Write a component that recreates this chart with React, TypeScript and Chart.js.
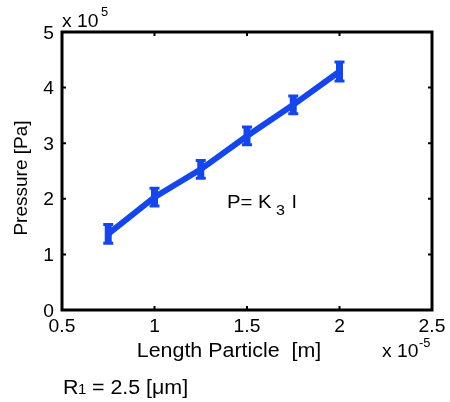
import React, { useEffect, useRef } from "react";
import { Chart, registerables } from "chart.js";

Chart.register(...registerables);

// Length particle (x 1e-5 m)
const lengthParticle = [0.75, 1.0, 1.25, 1.5, 1.75, 2.0];
// Pressure (x 1e5 Pa)
const pressure = [1.37, 2.03, 2.53, 3.13, 3.69, 4.29];
// Error (x 1e5 Pa)
const pressureErr = [0.17, 0.16, 0.16, 0.16, 0.16, 0.17];
const xTicks = [0.5, 1, 1.5, 2, 2.5];
const yTicks = [0, 1, 2, 3, 4, 5];
const xTickLabels = ["0.5", "1", "1.5", "2", "2.5"];
const yTickLabels = ["0", "1", "2", "3", "4", "5"];

const BLUE = "#1446f0";
const FONT = "Liberation Sans, Arial, sans-serif";
const SX = 1.07;

function txt(
  ctx: CanvasRenderingContext2D,
  s: string,
  x: number,
  y: number,
  size: number,
  align: CanvasTextAlign = "left",
  baseline: CanvasTextBaseline = "alphabetic",
  sx: number = SX
) {
  ctx.save();
  ctx.translate(x, y);
  ctx.scale(sx, 1);
  ctx.font = `${size}px ${FONT}`;
  ctx.textAlign = align;
  ctx.textBaseline = baseline;
  ctx.fillText(s, 0, 0);
  ctx.restore();
}

const decorPlugin = {
  id: "decor",
  afterDatasetsDraw(chart: any) {
    const ctx = chart.ctx;
    const xs = chart.scales.x;
    const ys = chart.scales.y;
    ctx.save();
    ctx.strokeStyle = BLUE;
    lengthParticle.forEach((lx, i) => {
      const px = xs.getPixelForValue(lx);
      const y1 = ys.getPixelForValue(pressure[i] - pressureErr[i]);
      const y2 = ys.getPixelForValue(pressure[i] + pressureErr[i]);
      ctx.lineWidth = 7;
      ctx.beginPath();
      ctx.moveTo(px, y1);
      ctx.lineTo(px, y2);
      ctx.stroke();
      ctx.lineWidth = 3;
      ctx.beginPath();
      ctx.moveTo(px - 5, y1);
      ctx.lineTo(px + 5, y1);
      ctx.moveTo(px - 5, y2);
      ctx.lineTo(px + 5, y2);
      ctx.stroke();
    });
    ctx.restore();
  },
  afterDraw(chart: any) {
    const ctx = chart.ctx;
    const a = chart.chartArea;
    const xs = chart.scales.x;
    const ys = chart.scales.y;
    ctx.save();
    ctx.strokeStyle = "#000";
    ctx.lineWidth = 3;
    ctx.strokeRect(a.left, a.top, a.right - a.left, a.bottom - a.top);
    ctx.lineWidth = 2;
    ctx.beginPath();
    xTicks.forEach((t) => {
      const px = xs.getPixelForValue(t);
      ctx.moveTo(px, a.bottom);
      ctx.lineTo(px, a.bottom - 4);
      ctx.moveTo(px, a.top);
      ctx.lineTo(px, a.top + 4);
    });
    yTicks.forEach((t) => {
      const py = ys.getPixelForValue(t);
      ctx.moveTo(a.left, py);
      ctx.lineTo(a.left + 4, py);
      ctx.moveTo(a.right, py);
      ctx.lineTo(a.right - 4, py);
    });
    ctx.stroke();

    ctx.fillStyle = "#000";
    // tick labels
    xTicks.forEach((t, i) => {
      txt(ctx, xTickLabels[i], xs.getPixelForValue(t), a.bottom + 22, 18, "center");
    });
    yTicks.forEach((t, i) => {
      txt(ctx, yTickLabels[i], a.left - 8, ys.getPixelForValue(t) + 6.5, 18, "right");
    });
    // top multiplier
    txt(ctx, "x 10", a.left, 27, 18);
    txt(ctx, "5", a.left + 39, 16, 12);
    // bottom multiplier
    txt(ctx, "x 10", 382, 357, 18);
    txt(ctx, "-5", 419, 347, 12);
    // x label
    txt(ctx, "Length Particle  [m]", 229, 357, 20, "center");
    // y label
    ctx.save();
    ctx.translate(27, 178);
    ctx.rotate(-Math.PI / 2);
    ctx.font = `19px ${FONT}`;
    ctx.textAlign = "center";
    ctx.textBaseline = "alphabetic";
    ctx.fillText("Pressure [Pa]", 0, 0);
    ctx.restore();
    // annotation
    txt(ctx, "P= K", 227, 208, 19);
    txt(ctx, "3", 276, 215, 15);
    txt(ctx, "l", 292, 208, 19);
    // R1 note
    txt(ctx, "R", 63, 394, 20);
    txt(ctx, "1", 78, 394, 14);
    txt(ctx, " = 2.5 [\u03bcm]", 86, 394, 20);
    ctx.restore();
  },
};

export default function App() {
  const ref = useRef<HTMLCanvasElement | null>(null);
  useEffect(() => {
    document.body.style.margin = "0";
    const canvas = ref.current;
    if (!canvas) return;
    const chart = new Chart(canvas, {
      type: "line",
      data: {
        datasets: [
          {
            data: lengthParticle.map((x, i) => ({ x, y: pressure[i] })),
            borderColor: BLUE,
            backgroundColor: BLUE,
            borderWidth: 6,
            pointRadius: 0,
            tension: 0,
          },
        ],
      },
      options: {
        responsive: false,
        animation: false,
        layout: { padding: { left: 0, right: 18, top: 32, bottom: 0 } },
        plugins: { legend: { display: false }, tooltip: { enabled: false } },
        scales: {
          x: {
            type: "linear",
            min: 0.5,
            max: 2.5,
            afterBuildTicks: (s: any) => {
              s.ticks = xTicks.map((v) => ({ value: v }));
            },
            afterFit: (s: any) => {
              s.height = 92;
            },
            grid: { display: false, drawTicks: false },
            border: { display: false },
            ticks: { display: false },
          },
          y: {
            type: "linear",
            min: 0,
            max: 5,
            afterBuildTicks: (s: any) => {
              s.ticks = yTicks.map((v) => ({ value: v }));
            },
            afterFit: (s: any) => {
              s.width = 62;
            },
            grid: { display: false, drawTicks: false },
            border: { display: false },
            ticks: { display: false },
          },
        },
      },
      plugins: [decorPlugin],
    });
    return () => chart.destroy();
  }, []);
  return (
    <div style={{ position: "fixed", left: 0, top: 0, width: 450, height: 402, background: "#fff" }}>
      <canvas ref={ref} width={450} height={402} />
    </div>
  );
}
